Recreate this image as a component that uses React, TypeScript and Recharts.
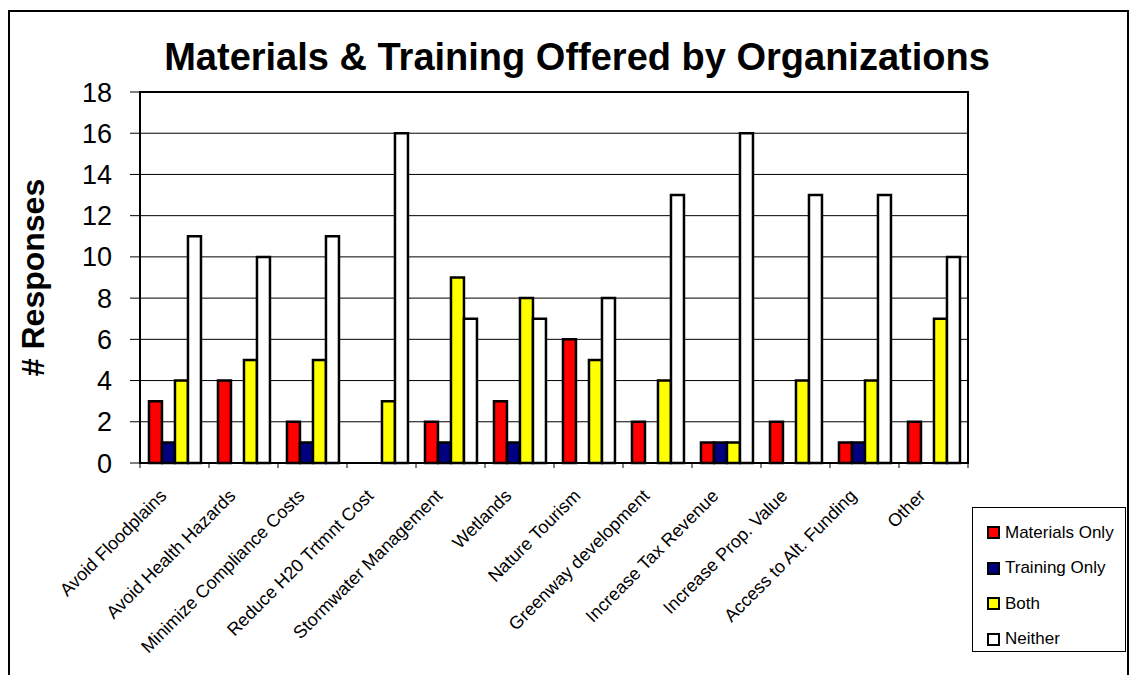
import { BarChart, Bar, XAxis, YAxis, CartesianGrid, ReferenceArea } from 'recharts';

const categories = [
  'Avoid Floodplains',
  'Avoid Health Hazards',
  'Minimize Compliance Costs',
  'Reduce H20 Trtmnt Cost',
  'Stormwater Management',
  'Wetlands',
  'Nature Tourism',
  'Greenway development',
  'Increase Tax Revenue',
  'Increase Prop. Value',
  'Access to Alt. Funding',
  'Other',
];

const materialsOnly = [3, 4, 2, 0, 2, 3, 6, 2, 1, 2, 1, 2];
const trainingOnly = [1, 0, 1, 0, 1, 1, 0, 0, 1, 0, 1, 0];
const both = [4, 5, 5, 3, 9, 8, 5, 4, 1, 4, 4, 7];
const neither = [11, 10, 11, 16, 7, 7, 8, 13, 16, 13, 13, 10];

const yTicks = [0, 2, 4, 6, 8, 10, 12, 14, 16, 18];

const seriesDefs = [
  { key: 'materials', name: 'Materials Only', color: '#ff0000' },
  { key: 'training', name: 'Training Only', color: '#000080' },
  { key: 'both', name: 'Both', color: '#ffff00' },
  { key: 'neither', name: 'Neither', color: '#ffffff' },
];

const data = categories.map((c, i) => ({
  name: c,
  materials: materialsOnly[i],
  training: trainingOnly[i],
  both: both[i],
  neither: neither[i],
}));

const FONT = '"Liberation Sans", Arial, Helvetica, sans-serif';
const W = 1137;
const H = 675;
const MARGIN = { top: 92, right: 169, bottom: 0, left: 8 };
const Y_AXIS_W = 132;
const PLOT_W = W - MARGIN.left - MARGIN.right - Y_AXIS_W;
const BAND = PLOT_W / categories.length;

function CategoryTick(props: any) {
  const { x, y, payload, index } = props;
  const last = index === categories.length - 1;
  return (
    <g>
      <line x1={x - BAND / 2} y1={y} x2={x - BAND / 2} y2={y + 5} stroke="#000" strokeWidth={1} />
      {last && <line x1={x + BAND / 2} y1={y} x2={x + BAND / 2} y2={y + 5} stroke="#000" strokeWidth={1} />}
      <text
        transform={`translate(${x - 7},${y + 34}) rotate(-45)`}
        textAnchor="end"
        fontSize={18}
        fontFamily={FONT}
        fill="#000"
      >
        {payload.value}
      </text>
    </g>
  );
}

function YLabel(props: any) {
  const vb = props.viewBox;
  return (
    <text
      transform={`translate(${vb.x + 36},${vb.y + vb.height / 2}) rotate(-90)`}
      textAnchor="middle"
      fontSize={32}
      fontWeight="bold"
      fontFamily={FONT}
      fill="#000"
    >
      # Responses
    </text>
  );
}

function LegendBox() {
  return (
    <div
      style={{
        position: 'absolute',
        left: 972,
        top: 507,
        boxSizing: 'border-box',
        width: 154,
        height: 145,
        border: '1px solid #000',
        background: '#fff',
        padding: '7px 0 0 14px',
        fontFamily: FONT,
        fontSize: 17,
      }}
    >
      {seriesDefs.map((s) => (
        <div key={s.key} style={{ display: 'flex', alignItems: 'center', height: 35.5 }}>
          <span
            style={{
              display: 'inline-block',
              boxSizing: 'border-box',
              width: 13,
              height: 13,
              border: '2px solid #000',
              background: s.color,
              marginRight: 5,
            }}
          />
          <span>{s.name}</span>
        </div>
      ))}
    </div>
  );
}

export default function App() {
  return (
    <div style={{ position: 'absolute', left: 0, top: 0, width: W, height: H, overflow: 'hidden', background: '#fff' }}>
      <div
        style={{
          position: 'absolute',
          left: 8,
          top: 10,
          width: 1121,
          height: 720,
          border: '2px solid #000',
          boxSizing: 'border-box',
        }}
      />
      <div
        style={{
          position: 'absolute',
          left: 577,
          top: 38,
          transform: 'translateX(-50%)',
          whiteSpace: 'nowrap',
          fontFamily: FONT,
          fontWeight: 'bold',
          fontSize: 38,
          lineHeight: '38px',
        }}
      >
        Materials &amp; Training Offered by Organizations
      </div>
      <div style={{ position: 'absolute', left: 0, top: 0 }}>
        <BarChart width={W} height={H} data={data} margin={MARGIN} barCategoryGap="13%" barGap={0}>
          <CartesianGrid vertical={false} stroke="#000" strokeWidth={1} />
          <ReferenceArea y1={0} y2={18} fill="none" stroke="#000" strokeWidth={2} />
          <XAxis
            dataKey="name"
            interval={0}
            height={212}
            tickSize={0}
            tickMargin={0}
            tickLine={false}
            axisLine={{ stroke: '#000', strokeWidth: 2 }}
            tick={<CategoryTick />}
          />
          <YAxis
            domain={[0, 18]}
            ticks={yTicks}
            interval={0}
            width={Y_AXIS_W}
            tickSize={10}
            tickMargin={18}
            axisLine={{ stroke: '#000', strokeWidth: 2 }}
            tickLine={{ stroke: '#000', strokeWidth: 1 }}
            tick={{ fontSize: 27, fill: '#000', fontFamily: FONT }}
            label={{ content: <YLabel /> }}
          />
          {seriesDefs.map((s) => (
            <Bar
              key={s.key}
              dataKey={s.key}
              name={s.name}
              fill={s.color}
              stroke="#000"
              strokeWidth={2.5}
              isAnimationActive={false}
            />
          ))}
        </BarChart>
      </div>
      <LegendBox />
    </div>
  );
}
